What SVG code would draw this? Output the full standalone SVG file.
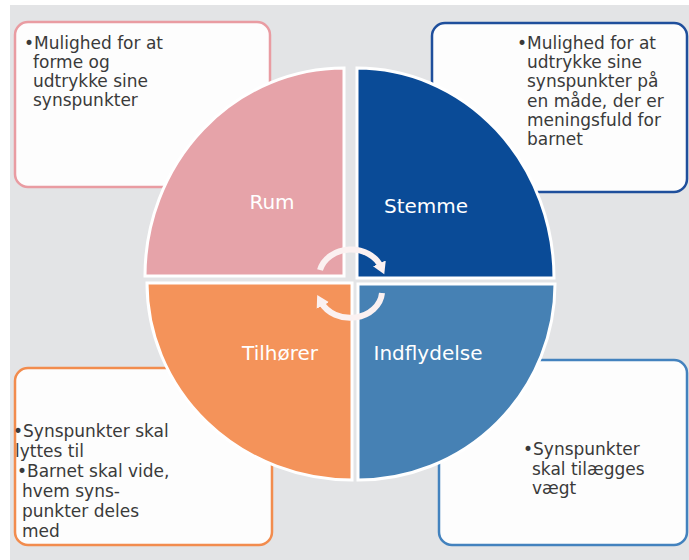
<svg xmlns="http://www.w3.org/2000/svg" width="689" height="560" viewBox="0 0 689 560">
<style>
.box{fill:#fdfdfd;stroke-width:2.5}
.bt{font-family:"DejaVu Sans",sans-serif;font-size:17px;fill:#3a3a3a}
.ql{font-family:"DejaVu Sans",sans-serif;font-size:20px;fill:#ffffff;text-anchor:middle}
.q{stroke:#ffffff;stroke-width:3}
.arc{fill:none;stroke:#fbf1f1;stroke-width:6}
</style>
<defs>
<marker id="ah" markerUnits="userSpaceOnUse" markerWidth="16" markerHeight="16" refX="4" refY="8" orient="auto">
<path d="M0,1 L12,8 L0,15 Z" fill="#fbf1f1"/>
</marker>
</defs>
<rect x="10" y="5" width="679" height="555" fill="#e3e4e6"/>

<g id="box-rum">
<rect class="box" x="15" y="22" width="255" height="165" rx="13" stroke="#e99ca2"/>
<text class="bt"><tspan x="24" y="49">•Mulighed for at</tspan><tspan x="33" y="68">forme og</tspan><tspan x="33" y="87">udtrykke sine</tspan><tspan x="33" y="106">synspunkter</tspan></text>
</g>
<g id="box-stemme">
<rect class="box" x="432" y="23" width="255" height="169" rx="13" stroke="#1f4f9c"/>
<text class="bt"><tspan x="517" y="49">•Mulighed for at</tspan><tspan x="527" y="68">udtrykke sine</tspan><tspan x="527" y="87">synspunkter på</tspan><tspan x="527" y="107">en måde, der er</tspan><tspan x="527" y="126">meningsfuld for</tspan><tspan x="527" y="145">barnet</tspan></text>
</g>
<g id="box-tilhorer">
<rect class="box" x="15" y="368" width="257" height="177" rx="13" stroke="#f28c4e"/>
<text class="bt"><tspan x="13" y="437">•Synspunkter skal</tspan><tspan x="15" y="457">lyttes til</tspan><tspan x="17" y="477">•Barnet skal vide,</tspan><tspan x="22" y="497">hvem syns-</tspan><tspan x="22" y="517">punkter deles</tspan><tspan x="22" y="537">med</tspan></text>
</g>
<g id="box-indflydelse">
<rect class="box" x="439" y="360" width="248" height="185" rx="13" stroke="#4382be"/>
<text class="bt"><tspan x="523" y="455">•Synspunkter</tspan><tspan x="532" y="475">skal tilægges</tspan><tspan x="532" y="494">vægt</tspan></text>
</g>

<g id="q-rum">
<path class="q" d="M344,276 L145,276 A199,208 0 0 1 344,68 Z" fill="#e6a3a9"/>
<text class="ql" x="272" y="209">Rum</text>
</g>
<g id="q-stemme">
<path class="q" d="M357,278 L357,68 A197,210 0 0 1 554,278 Z" fill="#0a4b97"/>
<text class="ql" x="426" y="213">Stemme</text>
</g>
<g id="q-tilhorer">
<path class="q" d="M352,283 L147,283 A205,197 0 0 0 352,480 Z" fill="#f4935a"/>
<text class="ql" x="280" y="360">Tilhører</text>
</g>
<g id="q-indflydelse">
<path class="q" d="M358,284 L555,284 A197,196 0 0 1 358,480 Z" fill="#4681b4"/>
<text class="ql" x="428" y="360">Indflydelse</text>
</g>

<g id="connectors">
<path class="arc" d="M320,270 A32,27 0 0 1 381,267" marker-end="url(#ah)"/>
<path class="arc" d="M382,293 A32,27 0 0 1 321,302" marker-end="url(#ah)"/>
</g>
</svg>
